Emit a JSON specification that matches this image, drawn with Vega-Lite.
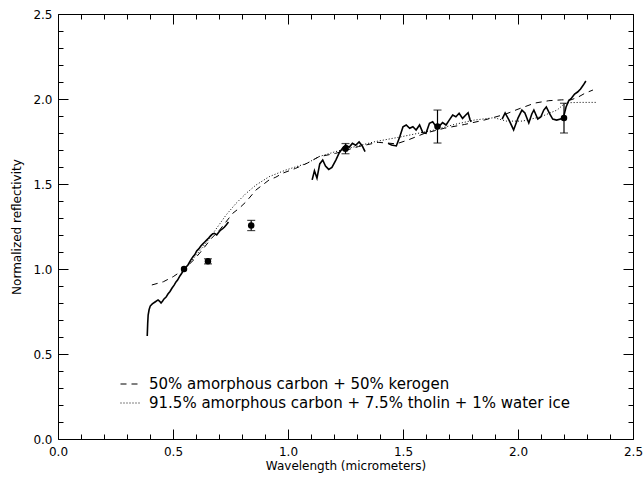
{
  "$schema": "https://vega.github.io/schema/vega-lite/v6.json",
  "width": 575,
  "height": 425,
  "autosize": {"type": "none"},
  "padding": {"left": 58, "top": 14, "right": 11, "bottom": 38},
  "background": "white",
  "config": {
    "view": {"stroke": null},
    "axis": {
      "grid": false,
      "domainColor": "black",
      "domainWidth": 1,
      "tickColor": "black",
      "tickWidth": 1,
      "labelColor": "black",
      "titleColor": "black",
      "labelFont": "DejaVu Sans",
      "titleFont": "DejaVu Sans",
      "labelFontSize": 12,
      "titleFontSize": 12,
      "titleFontWeight": "normal",
      "labelFlush": false,
      "labelOverlap": false
    },
    "legend": {
      "labelFont": "DejaVu Sans",
      "labelFontSize": 15,
      "labelColor": "black",
      "labelLimit": 0
    }
  },
  "datasets": {
    "spectrum": [
      {"seg": 1, "wl": 0.388, "refl": 0.606}, {"seg": 1, "wl": 0.390, "refl": 0.68}, {"seg": 1, "wl": 0.392, "refl": 0.729}, {"seg": 1, "wl": 0.396, "refl": 0.76}, {"seg": 1, "wl": 0.401, "refl": 0.782}, {"seg": 1, "wl": 0.41, "refl": 0.795}, {"seg": 1, "wl": 0.422, "refl": 0.806}, {"seg": 1, "wl": 0.435, "refl": 0.818}, {"seg": 1, "wl": 0.442, "refl": 0.81}, {"seg": 1, "wl": 0.448, "refl": 0.8}, {"seg": 1, "wl": 0.455, "refl": 0.812}, {"seg": 1, "wl": 0.461, "refl": 0.824}, {"seg": 1, "wl": 0.47, "refl": 0.835}, {"seg": 1, "wl": 0.478, "refl": 0.853}, {"seg": 1, "wl": 0.487, "refl": 0.868}, {"seg": 1, "wl": 0.496, "refl": 0.888}, {"seg": 1, "wl": 0.505, "refl": 0.905}, {"seg": 1, "wl": 0.513, "refl": 0.924}, {"seg": 1, "wl": 0.52, "refl": 0.935}, {"seg": 1, "wl": 0.53, "refl": 0.959}, {"seg": 1, "wl": 0.538, "refl": 0.975}, {"seg": 1, "wl": 0.547, "refl": 0.998}, {"seg": 1, "wl": 0.556, "refl": 1.01}, {"seg": 1, "wl": 0.565, "refl": 1.024}, {"seg": 1, "wl": 0.575, "refl": 1.048}, {"seg": 1, "wl": 0.586, "refl": 1.071}, {"seg": 1, "wl": 0.595, "refl": 1.085}, {"seg": 1, "wl": 0.603, "refl": 1.106}, {"seg": 1, "wl": 0.612, "refl": 1.118}, {"seg": 1, "wl": 0.621, "refl": 1.135}, {"seg": 1, "wl": 0.63, "refl": 1.148}, {"seg": 1, "wl": 0.638, "refl": 1.159}, {"seg": 1, "wl": 0.646, "refl": 1.17}, {"seg": 1, "wl": 0.655, "refl": 1.182}, {"seg": 1, "wl": 0.664, "refl": 1.196}, {"seg": 1, "wl": 0.672, "refl": 1.206}, {"seg": 1, "wl": 0.68, "refl": 1.21}, {"seg": 1, "wl": 0.69, "refl": 1.2}, {"seg": 1, "wl": 0.698, "refl": 1.215}, {"seg": 1, "wl": 0.707, "refl": 1.229}, {"seg": 1, "wl": 0.716, "refl": 1.238}, {"seg": 1, "wl": 0.724, "refl": 1.247}, {"seg": 1, "wl": 0.733, "refl": 1.262}, {"seg": 1, "wl": 0.741, "refl": 1.276},
      {"seg": 2, "wl": 1.105, "refl": 1.524}, {"seg": 2, "wl": 1.115, "refl": 1.578}, {"seg": 2, "wl": 1.126, "refl": 1.534}, {"seg": 2, "wl": 1.138, "refl": 1.618}, {"seg": 2, "wl": 1.151, "refl": 1.641}, {"seg": 2, "wl": 1.163, "refl": 1.606}, {"seg": 2, "wl": 1.177, "refl": 1.586}, {"seg": 2, "wl": 1.191, "refl": 1.598}, {"seg": 2, "wl": 1.208, "refl": 1.641}, {"seg": 2, "wl": 1.223, "refl": 1.684}, {"seg": 2, "wl": 1.237, "refl": 1.71}, {"seg": 2, "wl": 1.251, "refl": 1.729}, {"seg": 2, "wl": 1.266, "refl": 1.716}, {"seg": 2, "wl": 1.28, "refl": 1.739}, {"seg": 2, "wl": 1.294, "refl": 1.728}, {"seg": 2, "wl": 1.309, "refl": 1.747}, {"seg": 2, "wl": 1.323, "refl": 1.724}, {"seg": 2, "wl": 1.335, "refl": 1.69},
      {"seg": 3, "wl": 1.435, "refl": 1.739}, {"seg": 3, "wl": 1.45, "refl": 1.729}, {"seg": 3, "wl": 1.471, "refl": 1.724}, {"seg": 3, "wl": 1.486, "refl": 1.778}, {"seg": 3, "wl": 1.5, "refl": 1.837}, {"seg": 3, "wl": 1.514, "refl": 1.847}, {"seg": 3, "wl": 1.529, "refl": 1.828}, {"seg": 3, "wl": 1.543, "refl": 1.837}, {"seg": 3, "wl": 1.557, "refl": 1.818}, {"seg": 3, "wl": 1.572, "refl": 1.847}, {"seg": 3, "wl": 1.586, "refl": 1.802}, {"seg": 3, "wl": 1.6, "refl": 1.798}, {"seg": 3, "wl": 1.615, "refl": 1.857}, {"seg": 3, "wl": 1.629, "refl": 1.866}, {"seg": 3, "wl": 1.644, "refl": 1.837}, {"seg": 3, "wl": 1.658, "refl": 1.841}, {"seg": 3, "wl": 1.672, "refl": 1.861}, {"seg": 3, "wl": 1.687, "refl": 1.847}, {"seg": 3, "wl": 1.701, "refl": 1.876}, {"seg": 3, "wl": 1.716, "refl": 1.906}, {"seg": 3, "wl": 1.73, "refl": 1.896}, {"seg": 3, "wl": 1.744, "refl": 1.916}, {"seg": 3, "wl": 1.759, "refl": 1.886}, {"seg": 3, "wl": 1.773, "refl": 1.906}, {"seg": 3, "wl": 1.783, "refl": 1.919}, {"seg": 3, "wl": 1.792, "refl": 1.876}, {"seg": 3, "wl": 1.797, "refl": 1.866},
      {"seg": 4, "wl": 1.931, "refl": 1.882}, {"seg": 4, "wl": 1.944, "refl": 1.918}, {"seg": 4, "wl": 1.961, "refl": 1.876}, {"seg": 4, "wl": 1.981, "refl": 1.818}, {"seg": 4, "wl": 2.0, "refl": 1.888}, {"seg": 4, "wl": 2.017, "refl": 1.935}, {"seg": 4, "wl": 2.03, "refl": 1.918}, {"seg": 4, "wl": 2.047, "refl": 1.859}, {"seg": 4, "wl": 2.06, "refl": 1.912}, {"seg": 4, "wl": 2.069, "refl": 1.935}, {"seg": 4, "wl": 2.086, "refl": 1.882}, {"seg": 4, "wl": 2.099, "refl": 1.894}, {"seg": 4, "wl": 2.112, "refl": 1.935}, {"seg": 4, "wl": 2.123, "refl": 1.953}, {"seg": 4, "wl": 2.138, "refl": 1.912}, {"seg": 4, "wl": 2.151, "refl": 1.882}, {"seg": 4, "wl": 2.168, "refl": 1.876}, {"seg": 4, "wl": 2.185, "refl": 1.882}, {"seg": 4, "wl": 2.198, "refl": 1.894}, {"seg": 4, "wl": 2.209, "refl": 1.953}, {"seg": 4, "wl": 2.22, "refl": 1.988}, {"seg": 4, "wl": 2.233, "refl": 2.006}, {"seg": 4, "wl": 2.246, "refl": 2.029}, {"seg": 4, "wl": 2.259, "refl": 2.041}, {"seg": 4, "wl": 2.272, "refl": 2.059}, {"seg": 4, "wl": 2.284, "refl": 2.082}, {"seg": 4, "wl": 2.295, "refl": 2.106}
    ],
    "models": [
      {"model": "50% amorphous carbon + 50% kerogen", "wl": 0.408, "refl": 0.906}, {"model": "50% amorphous carbon + 50% kerogen", "wl": 0.458, "refl": 0.925}, {"model": "50% amorphous carbon + 50% kerogen", "wl": 0.501, "refl": 0.955}, {"model": "50% amorphous carbon + 50% kerogen", "wl": 0.55, "refl": 1.0}, {"model": "50% amorphous carbon + 50% kerogen", "wl": 0.595, "refl": 1.06}, {"model": "50% amorphous carbon + 50% kerogen", "wl": 0.62, "refl": 1.1}, {"model": "50% amorphous carbon + 50% kerogen", "wl": 0.667, "refl": 1.18}, {"model": "50% amorphous carbon + 50% kerogen", "wl": 0.703, "refl": 1.23}, {"model": "50% amorphous carbon + 50% kerogen", "wl": 0.76, "refl": 1.328}, {"model": "50% amorphous carbon + 50% kerogen", "wl": 0.79, "refl": 1.36}, {"model": "50% amorphous carbon + 50% kerogen", "wl": 0.818, "refl": 1.396}, {"model": "50% amorphous carbon + 50% kerogen", "wl": 0.861, "refl": 1.465}, {"model": "50% amorphous carbon + 50% kerogen", "wl": 0.918, "refl": 1.524}, {"model": "50% amorphous carbon + 50% kerogen", "wl": 0.947, "refl": 1.54}, {"model": "50% amorphous carbon + 50% kerogen", "wl": 0.976, "refl": 1.563}, {"model": "50% amorphous carbon + 50% kerogen", "wl": 1.033, "refl": 1.592}, {"model": "50% amorphous carbon + 50% kerogen", "wl": 1.083, "refl": 1.622}, {"model": "50% amorphous carbon + 50% kerogen", "wl": 1.134, "refl": 1.66}, {"model": "50% amorphous carbon + 50% kerogen", "wl": 1.206, "refl": 1.68}, {"model": "50% amorphous carbon + 50% kerogen", "wl": 1.306, "refl": 1.72}, {"model": "50% amorphous carbon + 50% kerogen", "wl": 1.392, "refl": 1.745}, {"model": "50% amorphous carbon + 50% kerogen", "wl": 1.44, "refl": 1.74}, {"model": "50% amorphous carbon + 50% kerogen", "wl": 1.471, "refl": 1.736}, {"model": "50% amorphous carbon + 50% kerogen", "wl": 1.522, "refl": 1.759}, {"model": "50% amorphous carbon + 50% kerogen", "wl": 1.594, "refl": 1.798}, {"model": "50% amorphous carbon + 50% kerogen", "wl": 1.68, "refl": 1.828}, {"model": "50% amorphous carbon + 50% kerogen", "wl": 1.767, "refl": 1.85}, {"model": "50% amorphous carbon + 50% kerogen", "wl": 1.85, "refl": 1.875}, {"model": "50% amorphous carbon + 50% kerogen", "wl": 1.944, "refl": 1.91}, {"model": "50% amorphous carbon + 50% kerogen", "wl": 2.0, "refl": 1.94}, {"model": "50% amorphous carbon + 50% kerogen", "wl": 2.073, "refl": 1.976}, {"model": "50% amorphous carbon + 50% kerogen", "wl": 2.134, "refl": 1.99}, {"model": "50% amorphous carbon + 50% kerogen", "wl": 2.19, "refl": 1.995}, {"model": "50% amorphous carbon + 50% kerogen", "wl": 2.23, "refl": 1.995}, {"model": "50% amorphous carbon + 50% kerogen", "wl": 2.26, "refl": 2.01}, {"model": "50% amorphous carbon + 50% kerogen", "wl": 2.29, "refl": 2.033}, {"model": "50% amorphous carbon + 50% kerogen", "wl": 2.326, "refl": 2.053},
      {"model": "91.5% amorphous carbon + 7.5% tholin + 1% water ice", "wl": 0.55, "refl": 1.0}, {"model": "91.5% amorphous carbon + 7.5% tholin + 1% water ice", "wl": 0.6, "refl": 1.08}, {"model": "91.5% amorphous carbon + 7.5% tholin + 1% water ice", "wl": 0.65, "refl": 1.165}, {"model": "91.5% amorphous carbon + 7.5% tholin + 1% water ice", "wl": 0.703, "refl": 1.265}, {"model": "91.5% amorphous carbon + 7.5% tholin + 1% water ice", "wl": 0.731, "refl": 1.318}, {"model": "91.5% amorphous carbon + 7.5% tholin + 1% water ice", "wl": 0.774, "refl": 1.386}, {"model": "91.5% amorphous carbon + 7.5% tholin + 1% water ice", "wl": 0.818, "refl": 1.445}, {"model": "91.5% amorphous carbon + 7.5% tholin + 1% water ice", "wl": 0.861, "refl": 1.494}, {"model": "91.5% amorphous carbon + 7.5% tholin + 1% water ice", "wl": 0.918, "refl": 1.543}, {"model": "91.5% amorphous carbon + 7.5% tholin + 1% water ice", "wl": 0.99, "refl": 1.582}, {"model": "91.5% amorphous carbon + 7.5% tholin + 1% water ice", "wl": 1.083, "refl": 1.622}, {"model": "91.5% amorphous carbon + 7.5% tholin + 1% water ice", "wl": 1.134, "refl": 1.661}, {"model": "91.5% amorphous carbon + 7.5% tholin + 1% water ice", "wl": 1.206, "refl": 1.69}, {"model": "91.5% amorphous carbon + 7.5% tholin + 1% water ice", "wl": 1.292, "refl": 1.72}, {"model": "91.5% amorphous carbon + 7.5% tholin + 1% water ice", "wl": 1.378, "refl": 1.749}, {"model": "91.5% amorphous carbon + 7.5% tholin + 1% water ice", "wl": 1.493, "refl": 1.778}, {"model": "91.5% amorphous carbon + 7.5% tholin + 1% water ice", "wl": 1.565, "refl": 1.798}, {"model": "91.5% amorphous carbon + 7.5% tholin + 1% water ice", "wl": 1.637, "refl": 1.818}, {"model": "91.5% amorphous carbon + 7.5% tholin + 1% water ice", "wl": 1.723, "refl": 1.85}, {"model": "91.5% amorphous carbon + 7.5% tholin + 1% water ice", "wl": 1.81, "refl": 1.876}, {"model": "91.5% amorphous carbon + 7.5% tholin + 1% water ice", "wl": 1.895, "refl": 1.89}, {"model": "91.5% amorphous carbon + 7.5% tholin + 1% water ice", "wl": 1.95, "refl": 1.87}, {"model": "91.5% amorphous carbon + 7.5% tholin + 1% water ice", "wl": 2.02, "refl": 1.87}, {"model": "91.5% amorphous carbon + 7.5% tholin + 1% water ice", "wl": 2.1, "refl": 1.896}, {"model": "91.5% amorphous carbon + 7.5% tholin + 1% water ice", "wl": 2.17, "refl": 1.935}, {"model": "91.5% amorphous carbon + 7.5% tholin + 1% water ice", "wl": 2.2, "refl": 1.97}, {"model": "91.5% amorphous carbon + 7.5% tholin + 1% water ice", "wl": 2.215, "refl": 1.978}, {"model": "91.5% amorphous carbon + 7.5% tholin + 1% water ice", "wl": 2.27, "refl": 1.98}, {"model": "91.5% amorphous carbon + 7.5% tholin + 1% water ice", "wl": 2.34, "refl": 1.98}
    ],
    "photometry": [
      {"wl": 0.548, "refl": 1.0, "lo": 1.0, "hi": 1.0, "err": 0},
      {"wl": 0.652, "refl": 1.045, "lo": 1.03, "hi": 1.06, "err": 1},
      {"wl": 0.84, "refl": 1.256, "lo": 1.226, "hi": 1.286, "err": 1},
      {"wl": 1.25, "refl": 1.708, "lo": 1.678, "hi": 1.738, "err": 1},
      {"wl": 1.65, "refl": 1.838, "lo": 1.741, "hi": 1.935, "err": 1},
      {"wl": 2.2, "refl": 1.888, "lo": 1.8, "hi": 1.975, "err": 1}
    ]
  },
  "resolve": {"axis": {"x": "independent", "y": "independent"}},
  "layer": [
    {
      "data": {"name": "spectrum"},
      "mark": {"type": "line", "color": "black", "strokeWidth": 1.6},
      "encoding": {
        "x": {"field": "wl", "type": "quantitative", "scale": {"domain": [0, 2.5], "nice": false, "zero": false},
              "axis": {"orient": "bottom", "values": [0, 0.5, 1, 1.5, 2, 2.5], "format": ".1f", "tickSize": -10, "labelPadding": 17, "title": "Wavelength (micrometers)", "titlePadding": 3}},
        "y": {"field": "refl", "type": "quantitative", "scale": {"domain": [0, 2.5], "nice": false, "zero": false},
              "axis": {"orient": "left", "values": [0, 0.5, 1, 1.5, 2, 2.5], "format": ".1f", "tickSize": -10, "labelPadding": 16, "title": "Normalized reflectivity", "titlePadding": 9}},
        "detail": {"field": "seg", "type": "nominal"}
      }
    },
    {
      "data": {"name": "models"},
      "mark": {"type": "line", "color": "black", "strokeWidth": 1},
      "encoding": {
        "x": {"field": "wl", "type": "quantitative",
              "axis": {"orient": "bottom", "values": [0.1, 0.2, 0.3, 0.4, 0.6, 0.7, 0.8, 0.9, 1.1, 1.2, 1.3, 1.4, 1.6, 1.7, 1.8, 1.9, 2.1, 2.2, 2.3, 2.4], "tickSize": -5, "labels": false, "domain": false, "title": null}},
        "y": {"field": "refl", "type": "quantitative",
              "axis": {"orient": "left", "values": [0.1, 0.2, 0.3, 0.4, 0.6, 0.7, 0.8, 0.9, 1.1, 1.2, 1.3, 1.4, 1.6, 1.7, 1.8, 1.9, 2.1, 2.2, 2.3, 2.4], "tickSize": -5, "labels": false, "domain": false, "title": null}},
        "strokeDash": {"field": "model", "type": "nominal",
              "scale": {"domain": ["50% amorphous carbon + 50% kerogen", "91.5% amorphous carbon + 7.5% tholin + 1% water ice"], "range": [[6, 5], [1, 2]]},
              "legend": {"title": null, "orient": "none", "legendX": 62, "legendY": 359, "symbolType": "stroke", "symbolSize": 440, "symbolStrokeWidth": 1, "symbolStrokeColor": "black", "labelOffset": 7, "rowPadding": 0, "padding": 0, "labelLimit": 0}}
      }
    },
    {
      "data": {"name": "photometry"},
      "transform": [{"filter": "datum.err > 0"}],
      "mark": {"type": "rule", "color": "black", "strokeWidth": 1.2},
      "encoding": {
        "x": {"field": "wl", "type": "quantitative",
              "axis": {"orient": "top", "values": [0, 0.5, 1, 1.5, 2, 2.5], "tickSize": -10, "labels": false, "title": null}},
        "y": {"field": "lo", "type": "quantitative",
              "axis": {"orient": "right", "values": [0, 0.5, 1, 1.5, 2, 2.5], "tickSize": -10, "labels": false, "title": null}},
        "y2": {"field": "hi"}
      }
    },
    {
      "data": {"name": "photometry"},
      "transform": [{"filter": "datum.err > 0"}, {"fold": ["lo", "hi"], "as": ["end", "val"]}],
      "mark": {"type": "tick", "color": "black", "orient": "horizontal", "size": 8, "thickness": 1.2},
      "encoding": {
        "x": {"field": "wl", "type": "quantitative",
              "axis": {"orient": "top", "values": [0.1, 0.2, 0.3, 0.4, 0.6, 0.7, 0.8, 0.9, 1.1, 1.2, 1.3, 1.4, 1.6, 1.7, 1.8, 1.9, 2.1, 2.2, 2.3, 2.4], "tickSize": -5, "labels": false, "domain": false, "title": null}},
        "y": {"field": "val", "type": "quantitative",
              "axis": {"orient": "right", "values": [0.1, 0.2, 0.3, 0.4, 0.6, 0.7, 0.8, 0.9, 1.1, 1.2, 1.3, 1.4, 1.6, 1.7, 1.8, 1.9, 2.1, 2.2, 2.3, 2.4], "tickSize": -5, "labels": false, "domain": false, "title": null}}
      }
    },
    {
      "data": {"name": "photometry"},
      "mark": {"type": "circle", "color": "black", "opacity": 1, "size": 42},
      "encoding": {
        "x": {"field": "wl", "type": "quantitative", "axis": null},
        "y": {"field": "refl", "type": "quantitative", "axis": null}
      }
    }
  ]
}
